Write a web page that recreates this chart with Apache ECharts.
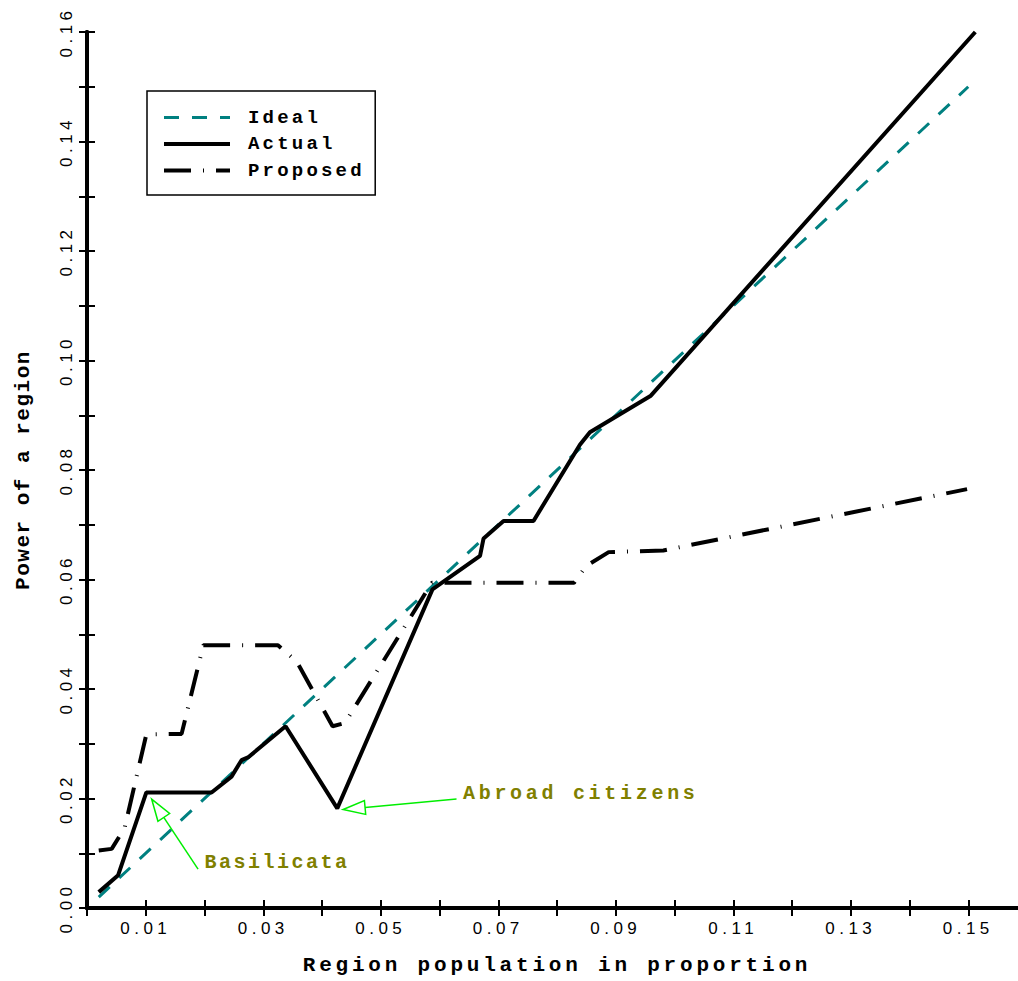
<!DOCTYPE html>
<html>
<head>
<meta charset="utf-8">
<script src="https://cdn.jsdelivr.net/npm/echarts@6/dist/echarts.min.js"></script>
<style>
html, body { margin: 0; padding: 0; background: #fff; }
#chart { width: 1018px; height: 981px; }
</style>
</head>
<body>
<div id="chart"></div>
<script>
const popIdeal = [0.0020, 0.1500];
const idealPower = [0.0020, 0.1500];

const popActual = [0.0020, 0.0053, 0.0101, 0.0212, 0.0246, 0.0263, 0.0274, 0.0338, 0.0426,
    0.0588, 0.0669, 0.0675, 0.0709, 0.0760, 0.0839, 0.0856, 0.0959, 0.1512];
const actualPower = [0.0029, 0.0060, 0.0211, 0.0211, 0.0240, 0.0270, 0.0275, 0.0332, 0.0182,
    0.0582, 0.0643, 0.0675, 0.0707, 0.0707, 0.0846, 0.0869, 0.0935, 0.1600];

const popProposed = [0.0020, 0.0042, 0.0064, 0.0101, 0.0161, 0.0198, 0.0325, 0.0357, 0.0418,
    0.0439, 0.0587, 0.0829, 0.0850, 0.0888, 0.0981, 0.1498];
const proposedPower = [0.0105, 0.0108, 0.0146, 0.0317, 0.0318, 0.0480, 0.0480, 0.0450, 0.0332,
    0.0338, 0.0594, 0.0594, 0.0625, 0.0650, 0.0653, 0.0765];

// annotations, in data units
const noteLabels = ['Basilicata', 'Abroad citizens'];
const noteTips = [[0.0110, 0.0199], [0.0436, 0.0180]];
const noteTails = [[0.0189, 0.0071], [0.0629, 0.0199]];
const noteTextAt = [[0.0200, 0.0084], [0.0640, 0.0210]];

const zip = (xs, ys) => xs.map((x, i) => [x, ys[i]]);

const monoFont = 'Liberation Mono';
const sansFont = 'Liberation Sans';

// letter spacing per text, the rest gets the default
const spacing = {
    'Region population in proportion': 3.8,
    'Power of a region': 1.5,
    'Ideal': 3.2,
    'Actual': 3.2,
    'Proposed': 3.2,
    'Basilicata': 2.5,
    'Abroad citizens': 3.7
};
const defaultSpacing = 4.5;

const chart = echarts.init(document.getElementById('chart'), null, { renderer: 'svg' });

const axisLine = { show: true, lineStyle: { color: '#000', width: 4 } };
const axisTick = { show: true, inside: true, length: 8, lineStyle: { color: '#000', width: 2 } };
const tickFont = { color: '#000', fontFamily: sansFont, fontSize: 17 };
const titleFont = { fontFamily: monoFont, fontWeight: 'bold', fontSize: 21, color: '#000' };

chart.setOption({
    animation: false,
    backgroundColor: '#fff',
    grid: { left: 87, right: -9, top: 32, bottom: 73, outerBoundsMode: 'none', containLabel: false },
    legend: {
        orient: 'vertical',
        left: 147,
        top: 91,
        padding: [17, 36, 15, 15],
        itemWidth: 66,
        itemHeight: 14,
        itemGap: 7.5,
        borderColor: '#000',
        borderWidth: 1.5,
        backgroundColor: '#fff',
        itemStyle: { opacity: 0 },
        data: [
            { name: 'Ideal', lineStyle: { width: 3 } },
            { name: 'Actual', lineStyle: { width: 4 } },
            { name: 'Proposed', lineStyle: { width: 4 } }
        ],
        textStyle: { fontFamily: monoFont, fontWeight: 'bold', fontSize: 19, color: '#000', padding: [0, 0, 0, 13] }
    },
    xAxis: [
        {
            type: 'value', min: 0, max: 0.16, interval: 0.01,
            axisLine, axisTick, splitLine: { show: false },
            axisLabel: Object.assign({
                margin: 12,
                formatter: v => Math.round(v * 100) % 2 === 1 ? v.toFixed(2) : ''
            }, tickFont),
            name: 'Region population in proportion',
            nameLocation: 'middle',
            nameGap: 47,
            nameTextStyle: titleFont
        },
        {
            type: 'value', position: 'top', min: 0, max: 0.16, interval: 0.01,
            axisLine, axisTick, splitLine: { show: false }, axisLabel: { show: false }
        }
    ],
    yAxis: [
        {
            type: 'value', min: 0, max: 0.16, interval: 0.01,
            axisLine, axisTick, splitLine: { show: false },
            axisLabel: Object.assign({
                rotate: 90,
                margin: 12,
                formatter: v => Math.round(v * 100) % 2 === 0 ? v.toFixed(2) : ''
            }, tickFont),
            name: 'Power of a region',
            nameLocation: 'middle',
            nameGap: 53,
            nameTextStyle: titleFont
        },
        {
            type: 'value', position: 'right', min: 0, max: 0.16, interval: 0.01,
            axisLine, axisTick, splitLine: { show: false }, axisLabel: { show: false }
        }
    ],
    series: [
        {
            name: 'Ideal', type: 'line', symbol: 'none', data: zip(popIdeal, idealPower),
            itemStyle: { color: '#008080' },
            lineStyle: { color: '#008080', width: 3, type: [15, 13] },
            z: 2
        },
        {
            name: 'Actual', type: 'line', symbol: 'none', data: zip(popActual, actualPower),
            itemStyle: { color: '#000' },
            lineStyle: { color: '#000', width: 4, type: 'solid' },
            z: 3
        },
        {
            name: 'Proposed', type: 'line', symbol: 'none', data: zip(popProposed, proposedPower),
            itemStyle: { color: '#000' },
            lineStyle: { color: '#000', width: 4, type: [27, 12, 1, 12], cap: 'butt' },
            z: 3
        }
    ]
});

// arrows and labels placed through the axes
const green = '#00ee00';
const graphics = [];
noteLabels.forEach((label, i) => {
    const tip = chart.convertToPixel({ gridIndex: 0 }, noteTips[i]);
    const tail = chart.convertToPixel({ gridIndex: 0 }, noteTails[i]);
    const at = chart.convertToPixel({ gridIndex: 0 }, noteTextAt[i]);
    const dx = tip[0] - tail[0], dy = tip[1] - tail[1];
    const len = Math.sqrt(dx * dx + dy * dy);
    const ux = dx / len, uy = dy / len;
    const headLen = 22, headHalf = 7;
    const bx = tip[0] - ux * headLen, by = tip[1] - uy * headLen;
    graphics.push({
        type: 'polyline', silent: true, z: 10,
        shape: { points: [tail, [bx, by]] },
        style: { stroke: green, lineWidth: 1.5, fill: null }
    });
    graphics.push({
        type: 'polygon', silent: true, z: 10,
        shape: { points: [tip, [bx - uy * headHalf, by + ux * headHalf], [bx + uy * headHalf, by - ux * headHalf]] },
        style: { stroke: green, lineWidth: 1.5, fill: 'rgba(255,255,255,0)' }
    });
    graphics.push({
        type: 'text', silent: true, z: 10,
        x: at[0], y: at[1],
        style: {
            text: label, fill: '#808000',
            font: 'bold 20px "' + monoFont + '"',
            textAlign: 'left', textVerticalAlign: 'middle'
        }
    });
});
chart.setOption({ graphic: graphics });

function applySpacing() {
    document.querySelectorAll('#chart svg text').forEach(t => {
        const s = spacing[t.textContent.trim()];
        t.style.letterSpacing = (s === undefined ? defaultSpacing : s) + 'px';
    });
}
chart.on('finished', applySpacing);
setTimeout(applySpacing, 50);
setTimeout(applySpacing, 300);
</script>
</body>
</html>
